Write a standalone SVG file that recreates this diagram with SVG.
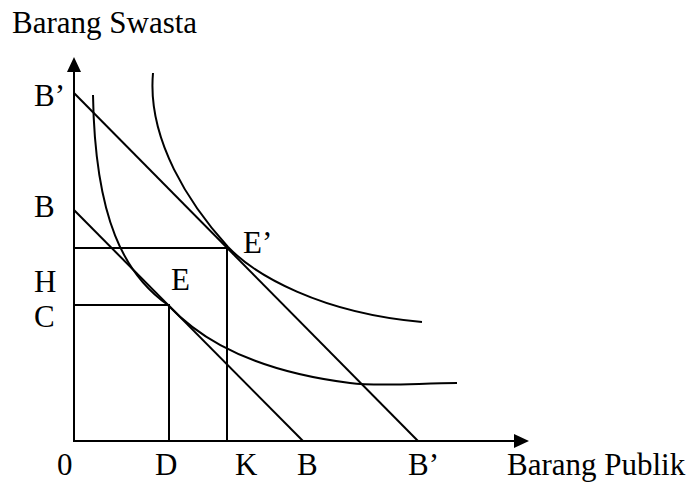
<svg xmlns="http://www.w3.org/2000/svg" width="689" height="482" viewBox="0 0 689 482">
<style>
.ln{fill:none;stroke:#000;stroke-width:2}
.t{font-family:"Liberation Serif","Times New Roman",serif;font-size:31px;fill:#000}
</style>
<rect width="689" height="482" fill="#fff"/>
<g id="axes">
<line class="ln" x1="74" y1="441" x2="74" y2="72"/>
<path d="M67,72 L74,57 L81,72 Z" fill="#000"/>
<line class="ln" x1="73" y1="441" x2="514" y2="441"/>
<path d="M514,434 L529,441 L514,448 Z" fill="#000"/>
</g>
<g id="connectors">
<line class="ln" x1="74" y1="93" x2="418" y2="441"/>
<line class="ln" x1="74" y1="210" x2="303" y2="441"/>
<polyline class="ln" points="74,248 227,248 227,441"/>
<polyline class="ln" points="74,305 169,305 169,441"/>
</g>
<g id="ic-inner">
<path class="ln" d="M93,95 C95,220 125,275 168,305 C185,323 230,368 350,383 C380,387 420,383 457,383"/>
</g>
<g id="ic-outer">
<path class="ln" d="M153,73 C147,140 190,205 228,247 C255,275 320,313 422,322"/>
</g>
<g id="labels">
<text class="t" x="34" y="106">B’</text>
<text class="t" x="34" y="217">B</text>
<text class="t" x="34" y="292">H</text>
<text class="t" x="34" y="327">C</text>
<text class="t" x="171" y="290">E</text>
<text class="t" x="243" y="253">E’</text>
<text class="t" x="57" y="475">0</text>
<text class="t" x="155" y="475">D</text>
<text class="t" x="235" y="475">K</text>
<text class="t" x="297" y="475">B</text>
<text class="t" x="408" y="475">B’</text>
<text class="t" x="507" y="475">Barang Publik</text>
<text class="t" x="12" y="33">Barang Swasta</text>
</g>
</svg>
